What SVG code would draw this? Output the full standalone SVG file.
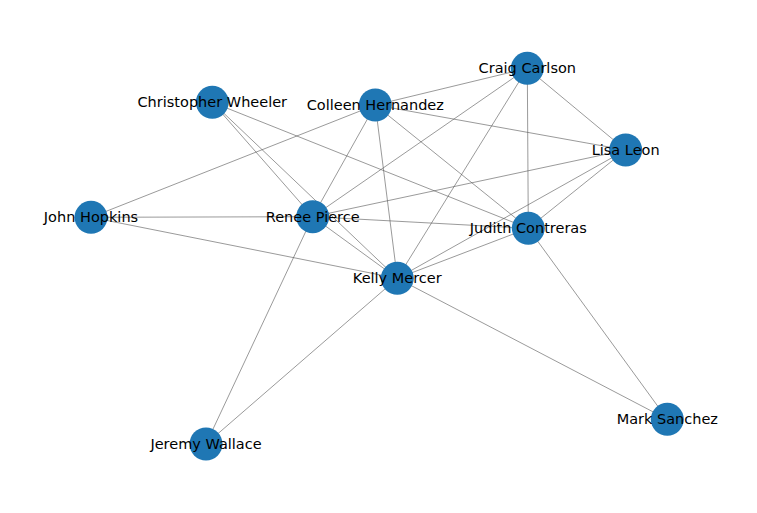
<svg xmlns="http://www.w3.org/2000/svg" width="757" height="513" viewBox="0 0 757 513">
<style>
.e{stroke:#555;stroke-width:0.6;fill:none}
.n circle{fill:#1f77b4}
.n text{font-family:"DejaVu Sans",sans-serif;font-size:14.5px;fill:#000;text-anchor:middle;dominant-baseline:central}
</style>
<rect width="757" height="513" fill="#fff"/>
<g id="edges">
<line class="e" x1="527.3" y1="68.3" x2="375.3" y2="105"/>
<line class="e" x1="527.3" y1="68.3" x2="625.7" y2="150"/>
<line class="e" x1="527.3" y1="68.3" x2="528.3" y2="228.3"/>
<line class="e" x1="527.3" y1="68.3" x2="312.7" y2="216.7"/>
<line class="e" x1="527.3" y1="68.3" x2="397.3" y2="278.3"/>
<line class="e" x1="375.3" y1="105" x2="625.7" y2="150"/>
<line class="e" x1="375.3" y1="105" x2="528.3" y2="228.3"/>
<line class="e" x1="375.3" y1="105" x2="312.7" y2="216.7"/>
<line class="e" x1="375.3" y1="105" x2="397.3" y2="278.3"/>
<line class="e" x1="375.3" y1="105" x2="91" y2="217.3"/>
<line class="e" x1="212.3" y1="102.3" x2="312.7" y2="216.7"/>
<line class="e" x1="212.3" y1="102.3" x2="397.3" y2="278.3"/>
<line class="e" x1="212.3" y1="102.3" x2="528.3" y2="228.3"/>
<line class="e" x1="625.7" y1="150" x2="312.7" y2="216.7"/>
<line class="e" x1="625.7" y1="150" x2="528.3" y2="228.3"/>
<line class="e" x1="625.7" y1="150" x2="397.3" y2="278.3"/>
<line class="e" x1="91" y1="217.3" x2="312.7" y2="216.7"/>
<line class="e" x1="91" y1="217.3" x2="397.3" y2="278.3"/>
<line class="e" x1="312.7" y1="216.7" x2="528.3" y2="228.3"/>
<line class="e" x1="312.7" y1="216.7" x2="397.3" y2="278.3"/>
<line class="e" x1="312.7" y1="216.7" x2="206" y2="444"/>
<line class="e" x1="528.3" y1="228.3" x2="397.3" y2="278.3"/>
<line class="e" x1="528.3" y1="228.3" x2="667.3" y2="419.3"/>
<line class="e" x1="397.3" y1="278.3" x2="667.3" y2="419.3"/>
<line class="e" x1="397.3" y1="278.3" x2="206" y2="444"/>
</g>
<g id="craig" class="n"><circle cx="527.3" cy="68.3" r="16.5"/><text x="527.3" y="68.3">Craig Carlson</text></g>
<g id="christopher" class="n"><circle cx="212.3" cy="102.3" r="16.5"/><text x="212.3" y="102.3">Christopher Wheeler</text></g>
<g id="colleen" class="n"><circle cx="375.3" cy="105" r="16.5"/><text x="375.3" y="105">Colleen Hernandez</text></g>
<g id="lisa" class="n"><circle cx="625.7" cy="150" r="16.5"/><text x="625.7" y="150">Lisa Leon</text></g>
<g id="john" class="n"><circle cx="91" cy="217.3" r="16.5"/><text x="91" y="217.3">John Hopkins</text></g>
<g id="renee" class="n"><circle cx="312.7" cy="216.7" r="16.5"/><text x="312.7" y="216.7">Renee Pierce</text></g>
<g id="judith" class="n"><circle cx="528.3" cy="228.3" r="16.5"/><text x="528.3" y="228.3">Judith Contreras</text></g>
<g id="kelly" class="n"><circle cx="397.3" cy="278.3" r="16.5"/><text x="397.3" y="278.3">Kelly Mercer</text></g>
<g id="mark" class="n"><circle cx="667.3" cy="419.3" r="16.5"/><text x="667.3" y="419.3">Mark Sanchez</text></g>
<g id="jeremy" class="n"><circle cx="206" cy="444" r="16.5"/><text x="206" y="444">Jeremy Wallace</text></g>
</svg>
